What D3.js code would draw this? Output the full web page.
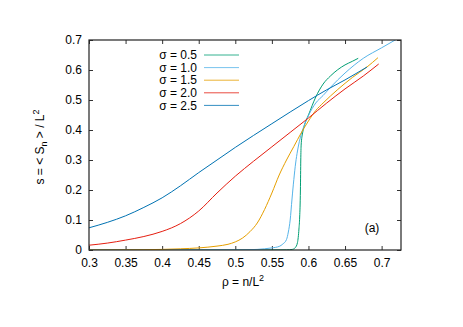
<!DOCTYPE html>
<html>
<head>
<meta charset="utf-8">
<script src="https://cdn.jsdelivr.net/npm/d3@7"></script>
<style>
  body { margin: 0; background: #fff; }
  text { font-family: "Liberation Sans", Arial, sans-serif; fill: #000; }
</style>
</head>
<body>
<script>
const width = 463,
    height = 327;

// series: [rho, s]
const sigmas = ["0.5", "1.0", "1.5", "2.0", "2.5"];
const colors = ["#009e73", "#56b4e9", "#e69f00", "#e51e10", "#0072b2"];

const s05 = [[0.30,0],[0.50,0],[0.57,0.0005],[0.578,0.002],[0.582,0.008],[0.585,0.025],[0.587,0.07],
  [0.588,0.11],[0.589,0.2],[0.5895,0.3],[0.590,0.35],[0.592,0.39],[0.595,0.42],[0.60,0.45],
  [0.61,0.51],[0.62,0.553],[0.63,0.58],[0.64,0.601],[0.65,0.617],[0.66,0.629],[0.668,0.639]];
const s10 = [[0.30,0],[0.50,0.0003],[0.53,0.002],[0.54,0.004],[0.55,0.007],[0.56,0.012],[0.565,0.02],
  [0.57,0.035],[0.5725,0.06],[0.575,0.10],[0.5775,0.17],[0.58,0.235],[0.5825,0.29],[0.585,0.33],
  [0.59,0.385],[0.595,0.42],[0.60,0.448],[0.61,0.49],[0.62,0.515],[0.63,0.542],[0.65,0.59],
  [0.675,0.639],[0.70,0.674],[0.72,0.702]];
const s15 = [[0.30,0],[0.35,0.0005],[0.40,0.002],[0.425,0.004],[0.45,0.007],[0.475,0.013],[0.49,0.019],
  [0.50,0.027],[0.51,0.040],[0.52,0.061],[0.53,0.09],[0.54,0.135],[0.55,0.19],[0.56,0.25],[0.57,0.30],
  [0.58,0.345],[0.59,0.39],[0.60,0.43],[0.61,0.465],[0.62,0.49],[0.64,0.535],[0.66,0.575],
  [0.68,0.61],[0.695,0.641]];
const s20 = [[0.30,0.016],[0.325,0.023],[0.35,0.033],[0.375,0.045],[0.40,0.062],[0.425,0.088],
  [0.45,0.13],[0.475,0.19],[0.50,0.246],[0.525,0.296],[0.55,0.344],[0.575,0.392],[0.60,0.44],
  [0.625,0.49],[0.65,0.537],[0.675,0.58],[0.696,0.62]];
const s25 = [[0.30,0.074],[0.325,0.092],[0.35,0.114],[0.375,0.142],[0.40,0.174],[0.425,0.214],
  [0.45,0.258],[0.475,0.30],[0.50,0.342],[0.525,0.382],[0.55,0.421],[0.575,0.46],[0.60,0.498],
  [0.625,0.534],[0.65,0.567],[0.68,0.61]];
const series = [s05, s10, s15, s20, s25];

const xTicks = [0.3, 0.35, 0.4, 0.45, 0.5, 0.55, 0.6, 0.65, 0.7];
const yTicks = [0, 0.1, 0.2, 0.3, 0.4, 0.5, 0.6, 0.7];

const mLeft = 89, mRight = 401, mTop = 40, mBottom = 250;

const x = d3.scaleLinear().domain([0.3, 0.7265]).range([mLeft, mRight]);
const y = d3.scaleLinear().domain([0, 0.7]).range([mBottom, mTop]);

const svg = d3.select("body").append("svg")
    .attr("width", width)
    .attr("height", height);

svg.append("defs").append("clipPath").attr("id", "clip")
  .append("rect")
    .attr("x", mLeft).attr("y", mTop)
    .attr("width", mRight - mLeft).attr("height", mBottom - mTop);

const fmt = d => d === 0 ? "0" : String(d);

// axes, gnuplot style: ticks inside, mirrored
const tk = 4;
svg.append("g").attr("transform", `translate(0,${mBottom})`)
    .call(d3.axisBottom(x).tickValues(xTicks).tickFormat(fmt).tickSizeInner(-tk).tickSizeOuter(0).tickPadding(8))
    .call(g => g.select(".domain").remove());
svg.append("g").attr("transform", `translate(0,${mTop})`)
    .call(d3.axisTop(x).tickValues(xTicks).tickFormat("").tickSizeInner(-tk).tickSizeOuter(0))
    .call(g => g.select(".domain").remove());
svg.append("g").attr("transform", `translate(${mLeft},0)`)
    .call(d3.axisLeft(y).tickValues(yTicks).tickFormat(fmt).tickSizeInner(-tk).tickSizeOuter(0).tickPadding(7))
    .call(g => g.select(".domain").remove());
svg.append("g").attr("transform", `translate(${mRight},0)`)
    .call(d3.axisRight(y).tickValues(yTicks).tickFormat("").tickSizeInner(-tk).tickSizeOuter(0))
    .call(g => g.select(".domain").remove());

svg.selectAll(".tick text").attr("font-size", 12).attr("font-family", "Liberation Sans, Arial, sans-serif");
svg.selectAll(".tick line").attr("stroke", "#333");

const line = d3.line()
    .x(d => x(d[0]))
    .y(d => y(d[1]))
    .curve(d3.curveMonotoneX);

svg.append("g").attr("clip-path", "url(#clip)")
  .selectAll("path")
  .data(series)
  .enter().append("path")
    .attr("d", line)
    .attr("fill", "none")
    .attr("stroke", (d, i) => colors[i])
    .attr("stroke-width", 1);

// frame
svg.append("rect")
    .attr("x", mLeft).attr("y", mTop)
    .attr("width", mRight - mLeft).attr("height", mBottom - mTop)
    .attr("fill", "none").attr("stroke", "#222").attr("stroke-width", 1.2);

// legend
const legend = svg.append("g");
sigmas.forEach((s, i) => {
  const ly = 55 + i * 12.6;
  legend.append("text")
      .attr("x", 197).attr("y", ly).attr("dy", "0.35em")
      .attr("text-anchor", "end").attr("font-size", 12)
      .text("σ = " + s);
  legend.append("line")
      .attr("x1", 204).attr("x2", 239).attr("y1", ly).attr("y2", ly)
      .attr("stroke", colors[i]).attr("stroke-width", 0.8);
});

// labels
svg.append("text")
    .attr("x", 372).attr("y", 228).attr("dy", "0.35em")
    .attr("text-anchor", "middle").attr("font-size", 12)
    .text("(a)");

const xl = svg.append("text")
    .attr("x", 243).attr("y", 286)
    .attr("text-anchor", "middle").attr("font-size", 12);
xl.append("tspan").text("ρ = n/L");
xl.append("tspan").attr("dy", -5).attr("font-size", 9).text("2");

const yl = svg.append("text")
    .attr("transform", "translate(44,147) rotate(-90)")
    .attr("text-anchor", "middle").attr("font-size", 12);
yl.append("tspan").text("s = < S");
yl.append("tspan").attr("dy", 3).attr("font-size", 9).text("n");
yl.append("tspan").attr("dy", -3).text(" > / L");
yl.append("tspan").attr("dy", -5).attr("font-size", 9).text("2");
</script>
</body>
</html>
